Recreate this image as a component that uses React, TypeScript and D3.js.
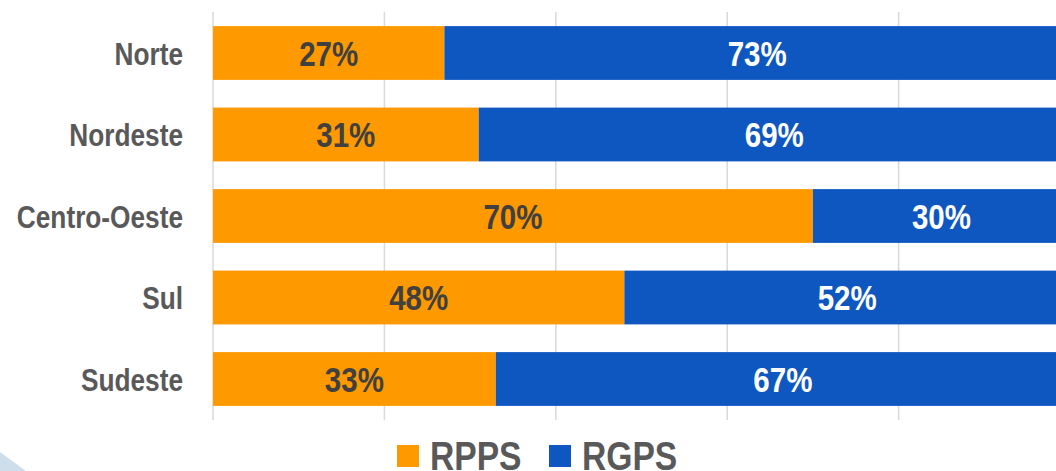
import React, { useEffect, useRef } from 'react';
import * as d3 from 'd3';

const regions = ['Norte', 'Nordeste', 'Centro-Oeste', 'Sul', 'Sudeste'];
const rpps = [27, 31, 70, 48, 33];
const rgps = [73, 69, 30, 52, 67];
const seriesNames = ['RPPS', 'RGPS'];
const gridTicks = [0, 20, 40, 60, 80, 100];

const WIDTH = 1056;
const HEIGHT = 471;
// no narrow font installed, so squeeze Liberation Sans horizontally
const FONT = "'Liberation Sans', Arial, sans-serif";
const NARROW = 0.82;
const colors = ['#FF9900', '#0E57C1'];

export default function App() {
  const ref = useRef<SVGSVGElement | null>(null);

  useEffect(() => {
    const svg = d3.select(ref.current);
    svg.selectAll('*').remove();

    const x = d3.scaleLinear().domain([0, 100]).range([213, 1070]);
    const y = d3.scaleBand<string>()
      .domain(regions)
      .range([12, 420])
      .paddingInner(0.34)
      .paddingOuter(0.173);

    // corner decoration
    svg.append('polygon')
      .attr('points', '0,452 0,471 26,471')
      .attr('fill', '#cfdeeb');

    // grid
    svg.append('g')
      .selectAll('line')
      .data(gridTicks)
      .enter()
      .append('line')
      .attr('x1', d => x(d))
      .attr('x2', d => x(d))
      .attr('y1', 12)
      .attr('y2', 420)
      .attr('stroke', '#d9d9d9')
      .attr('stroke-width', 1.5);

    const rows = regions.map((r, i) => ({ region: r, RPPS: rpps[i], RGPS: rgps[i] }));
    const stack = d3.stack<any>().keys(seriesNames);
    const stacked = stack(rows);

    const layers = svg.append('g')
      .selectAll('g')
      .data(stacked)
      .enter()
      .append('g')
      .attr('fill', (d, i) => colors[i]);

    layers.selectAll('rect')
      .data(d => d)
      .enter()
      .append('rect')
      .attr('x', d => x(d[0]))
      .attr('y', d => y(d.data.region) as number)
      .attr('width', d => x(d[1]) - x(d[0]))
      .attr('height', y.bandwidth());

    layers.each(function (layer, i) {
      d3.select(this)
        .selectAll('text')
        .data(layer)
        .enter()
        .append('text')
        .attr('transform', d => {
          const cx = (x(d[0]) + x(d[1])) / 2;
          const cy = (y(d.data.region) as number) + y.bandwidth() / 2;
          return `translate(${cx},${cy}) scale(${NARROW},1)`;
        })
        .attr('dy', '0.36em')
        .attr('text-anchor', 'middle')
        .attr('font-family', FONT)
        .attr('font-weight', 'bold')
        .attr('font-size', 36)
        .attr('fill', i === 0 ? '#404040' : '#ffffff')
        .text(d => (d[1] - d[0]) + '%');
    });

    // category labels
    svg.append('g')
      .selectAll('text')
      .data(regions)
      .enter()
      .append('text')
      .attr('transform', d => `translate(183,${(y(d) as number) + y.bandwidth() / 2}) scale(${NARROW},1)`)
      .attr('dy', '0.36em')
      .attr('text-anchor', 'end')
      .attr('font-family', FONT)
      .attr('font-weight', 'bold')
      .attr('font-size', 32)
      .attr('fill', '#595959')
      .text(d => d);

    // legend
    const legendX = [397, 549];
    const legend = svg.append('g')
      .selectAll('g')
      .data(seriesNames)
      .enter()
      .append('g')
      .attr('transform', (d, i) => `translate(${legendX[i]},445)`);
    legend.append('rect')
      .attr('width', 22)
      .attr('height', 22)
      .attr('fill', (d, i) => colors[i]);
    legend.append('text')
      .attr('transform', `translate(33,25) scale(${NARROW},1)`)
      .attr('font-family', FONT)
      .attr('font-weight', 'bold')
      .attr('font-size', 41)
      .attr('fill', '#595959')
      .text(d => d);
  }, []);

  return (
    <svg
      ref={ref}
      width={WIDTH}
      height={HEIGHT}
      style={{ position: 'absolute', left: 0, top: 0, background: '#ffffff' }}
    />
  );
}
